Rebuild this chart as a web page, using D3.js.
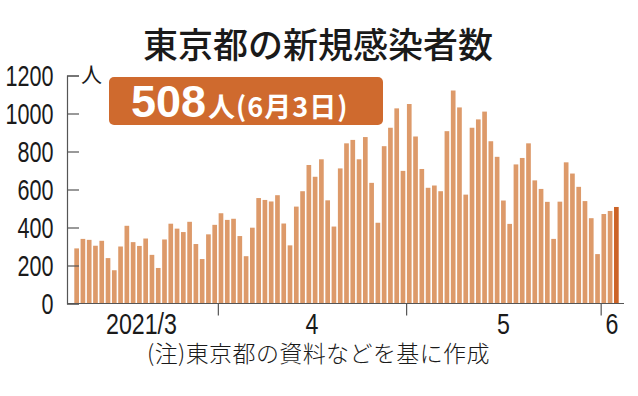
<!DOCTYPE html>
<meta charset="utf-8">
<style>
body { margin: 0; background: #fff; }
svg text { fill: #1a1a1a; }
</style>
<body>
<script src="https://d3js.org/d3.v7.min.js"></script>
<script>
// daily new cases, 2021-03-09 .. 2021-06-03
var startDate = "2021-03-09";
var cases = [
  290, 340, 335, 304, 330, 239, 175, 300, 409, 323, 303, 342, 256, 187, 337, 420, 394, 376, 430, 313, 234, 364, 414,
  475, 440, 446, 355, 249, 399, 555, 545, 537, 570, 421, 306, 510, 591, 729, 667, 759, 543, 405, 711, 843, 861, 759, 876, 635, 425, 828, 925, 1027, 698,
  1050, 879, 708, 609, 621, 591, 907, 1121, 1032, 573, 925, 969, 1010, 854, 772, 542, 419, 732, 766, 843, 648, 603, 535, 340, 536, 743, 684, 614, 539, 449, 260,
  471, 487, 508
];
var yTicks = [0, 200, 400, 600, 800, 1000, 1200];
var monthTicks = ["2021-04-01", "2021-05-01", "2021-06-01"];
var monthLabels = ["2021/3", "4", "5", "6"];

var width = 638, height = 396;
var numFont = "'Liberation Sans', Arial, sans-serif";
var jpFont = "'Noto Sans CJK JP', sans-serif";
// digits in the original are a condensed face
var ySqueeze = 0.72, xSqueeze = 0.8;

var svg = d3.select("body").append("svg")
    .attr("width", width)
    .attr("height", height);

var day0 = new Date(startDate + "T00:00:00Z");
var data = cases.map(function(v, i) {
  return { date: d3.utcDay.offset(day0, i), value: v };
});
var dayEnd = d3.utcDay.offset(day0, cases.length);

var x = d3.scaleUtc().domain([day0, dayEnd]).range([73.5, 619.5]);
var y = d3.scaleLinear().domain([0, 1200]).range([303.5, 75.5]);

// title
svg.append("text")
    .attr("x", 318).attr("y", 58)
    .attr("text-anchor", "middle")
    .style("font-family", jpFont)
    .style("font-weight", 500)
    .style("font-size", "35px")
    .text("東京都の新規感染者数");

// bars
svg.append("g").selectAll("rect")
  .data(data)
  .enter().append("rect")
    .attr("x", function(d) { return x(d.date) + 0.8; })
    .attr("width", function(d) { return x(d3.utcDay.offset(d.date, 1)) - x(d.date) - 1.6; })
    .attr("y", function(d) { return y(d.value); })
    .attr("height", function(d) { return y(0) - y(d.value); })
    .attr("fill", function(d, i) { return i === data.length - 1 ? "#cc6326" : "#dd9a6a"; });

// y axis
var yAxis = svg.append("g")
    .attr("transform", "translate(67,0)")
    .call(d3.axisLeft(y).tickValues(yTicks).tickFormat(d3.format("d")).tickSize(-12).tickPadding(12));
yAxis.select(".domain").attr("stroke", "#555").attr("stroke-width", 1.2);
yAxis.selectAll(".tick line").attr("stroke", "#555").attr("stroke-width", 1.2);
yAxis.selectAll(".tick text")
    .attr("x", -13.5 / ySqueeze)
    .attr("transform", "scale(" + ySqueeze + ",1)")
    .style("font-family", numFont)
    .style("font-size", "30px")
    .style("fill", "#1a1a1a");

svg.append("text")
    .attr("x", 81).attr("y", 82)
    .style("font-family", jpFont)
    .style("font-size", "21px")
    .text("人");

// x axis
var xAxis = svg.append("g")
    .attr("transform", "translate(0,303.5)")
    .call(d3.axisBottom(x)
      .tickValues(monthTicks.map(function(s) { return new Date(s + "T00:00:00Z"); }))
      .tickSize(12).tickFormat(""));
xAxis.select(".domain").attr("d", "M67,0H624").attr("stroke", "#555").attr("stroke-width", 1.2);
xAxis.selectAll(".tick line").attr("stroke", "#555").attr("stroke-width", 1.2);

var bounds = [day0].concat(monthTicks.map(function(s) { return new Date(s + "T00:00:00Z"); }), [dayEnd]);
svg.append("g").selectAll("text")
  .data(monthLabels)
  .enter().append("text")
    .attr("x", function(d, i) {
      var cx = i === 0 ? 141.5 : (x(bounds[i]) + x(bounds[i + 1])) / 2 + (i === 3 ? 2 : 0);
      return cx / xSqueeze;
    })
    .attr("y", 334.5)
    .attr("transform", "scale(" + xSqueeze + ",1)")
    .attr("text-anchor", "middle")
    .style("font-family", numFont)
    .style("font-size", "29px")
    .text(function(d) { return d; });

// note
svg.append("text")
    .attr("x", 147).attr("y", 362)
    .style("font-family", jpFont)
    .style("font-weight", 300)
    .style("font-size", "23px")
    .style("letter-spacing", "0.4px")
    .text("(注)東京都の資料などを基に作成");

// callout
var last = data[data.length - 1];
svg.append("rect")
    .attr("x", 109).attr("y", 77)
    .attr("width", 274).attr("height", 48)
    .attr("rx", 5)
    .attr("fill", "#cf6a2e");
var call = svg.append("text")
    .attr("x", 131).attr("y", 117)
    .style("fill", "#fff");
call.append("tspan")
    .style("font-family", "'Liberation Sans', Arial, sans-serif")
    .style("font-weight", 700)
    .style("font-size", "45px")
    .style("fill", "#fff")
    .text(last.value);
call.append("tspan")
    .attr("dx", 2)
    .style("font-family", jpFont)
    .style("font-weight", 700)
    .style("font-size", "27px")
    .style("letter-spacing", "1px")
    .style("fill", "#fff")
    .text("人(6月3日)");
</script>
</body>
</html>
